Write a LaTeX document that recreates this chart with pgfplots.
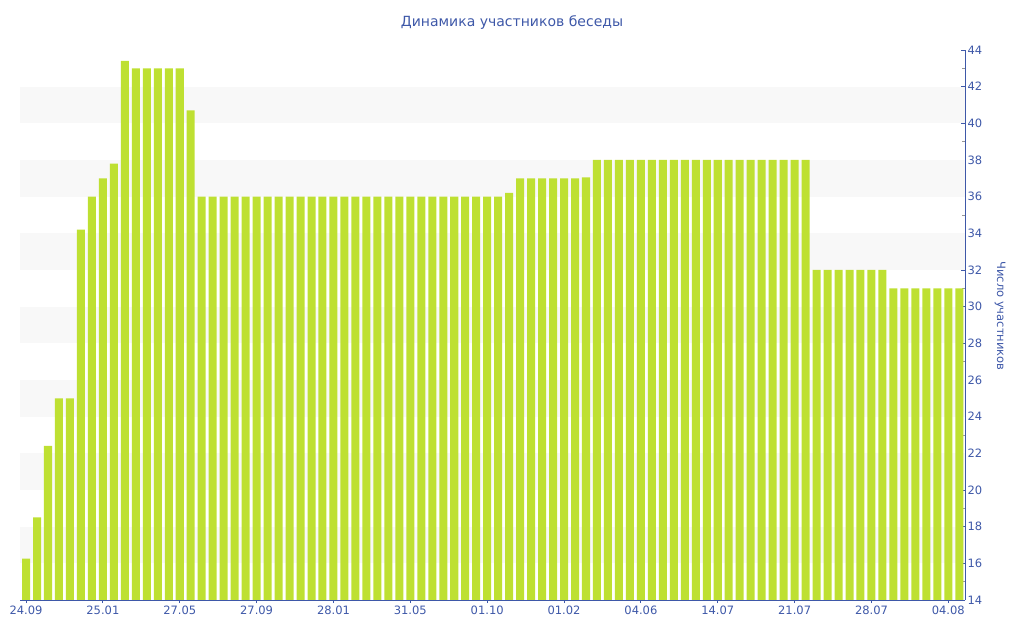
\documentclass[border=0pt]{standalone}
\usepackage{fontspec}
\setmainfont{DejaVu Sans}
\usepackage{pgfplots}
\pgfplotsset{compat=1.18}
\definecolor{axisblue}{RGB}{62,88,168}
\definecolor{barlime}{RGB}{190,224,50}
\definecolor{band}{RGB}{248,248,248}
\definecolor{minorgray}{RGB}{150,150,150}
\begin{document}
\begin{tikzpicture}
\useasboundingbox (0,0) rectangle (1024bp,640bp);
\begin{axis}[
  at={(20bp,40bp)}, anchor=south west,
  scale only axis, width=945bp, height=550bp,
  xmin=-0.55, xmax=85.52, ymin=14, ymax=44,
  axis x line=bottom, axis y line=right,
  axis line style={draw=axisblue, line width=0.8bp, -},
  /pgf/number format/assume math mode=true,
  ytick={14,16,...,44},
  minor y tick num=1,
  xtick={0,7,...,84},
  xticklabels={24.09,25.01,27.05,27.09,28.01,31.05,01.10,01.02,04.06,14.07,21.07,28.07,04.08},
  tick align=inside,
  major tick length=4bp,
  minor tick length=3bp,
  major tick style={draw=axisblue, line width=0.8bp},
  minor tick style={draw=minorgray, line width=0.8bp},
  xtick style={yshift=-3bp},
  ticklabel style={font=\fontsize{11.5bp}{13bp}\selectfont, text=axisblue},
  xticklabel style={yshift=-2bp},
  yticklabel style={xshift=-1bp},
  clip=true,
]
\fill[band] (axis cs:-0.55,16) rectangle (axis cs:85.52,18);
\fill[band] (axis cs:-0.55,20) rectangle (axis cs:85.52,22);
\fill[band] (axis cs:-0.55,24) rectangle (axis cs:85.52,26);
\fill[band] (axis cs:-0.55,28) rectangle (axis cs:85.52,30);
\fill[band] (axis cs:-0.55,32) rectangle (axis cs:85.52,34);
\fill[band] (axis cs:-0.55,36) rectangle (axis cs:85.52,38);
\fill[band] (axis cs:-0.55,40) rectangle (axis cs:85.52,42);
\addplot[ybar, bar width=0.73, bar shift=0pt, fill=barlime, draw=none] coordinates {
(0,16.25)(1,18.5)(2,22.4)(3,25)(4,25)(5,34.2)(6,36)(7,37)(8,37.8)(9,43.4)
(10,43)(11,43)(12,43)(13,43)(14,43)(15,40.7)
(16,36)(17,36)(18,36)(19,36)(20,36)(21,36)(22,36)(23,36)(24,36)(25,36)
(26,36)(27,36)(28,36)(29,36)(30,36)(31,36)(32,36)(33,36)(34,36)(35,36)
(36,36)(37,36)(38,36)(39,36)(40,36)(41,36)(42,36)(43,36)
(44,36.2)
(45,37)(46,37)(47,37)(48,37)(49,37)(50,37)(51,37.05)
(52,38)(53,38)(54,38)(55,38)(56,38)(57,38)(58,38)(59,38)(60,38)(61,38)
(62,38)(63,38)(64,38)(65,38)(66,38)(67,38)(68,38)(69,38)(70,38)(71,38)
(72,32)(73,32)(74,32)(75,32)(76,32)(77,32)(78,32)
(79,31)(80,31)(81,31)(82,31)(83,31)(84,31)(85,31)
};
\end{axis}
\node[text=axisblue, font=\fontsize{14bp}{16bp}\selectfont] at (512bp,617bp) {Динамика участников беседы};
\node[text=axisblue, font=\fontsize{11.5bp}{13bp}\selectfont, rotate=-90] at (1000bp,324bp) {Число участников};
\end{tikzpicture}
\end{document}
